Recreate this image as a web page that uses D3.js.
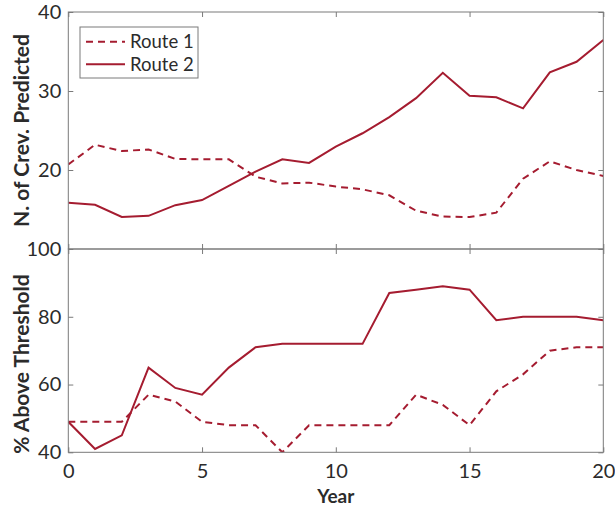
<!DOCTYPE html>
<html>
<head>
<meta charset="utf-8">
<script src="https://cdn.jsdelivr.net/npm/d3@7"></script>
<style>
  html, body { margin: 0; padding: 0; background: #fff; }
  svg { display: block; }
  text { font-family: Lato, "Open Sans", sans-serif; }
</style>
</head>
<body>
<svg id="chart" width="615" height="508"></svg>
<script>
// Years 0..20
const years = d3.range(0, 21);

// Number of crevasses predicted per year
const crevRoute1 = [20.7, 23.2, 22.4, 22.6, 21.4, 21.35, 21.35, 19.15, 18.3, 18.4, 17.9,
                    17.55, 16.8, 14.85, 14.1, 14.05, 14.6, 18.9, 21.1, 20.0, 19.25];
const crevRoute2 = [15.85, 15.6, 14.05, 14.2, 15.55, 16.2, 18.0, 19.8, 21.35, 20.9, 22.95,
                    24.65, 26.7, 29.1, 32.3, 29.4, 29.2, 27.8, 32.35, 33.7, 36.45];

// Percentage of crevasses above threshold per year
const pctRoute1 = [49, 49, 49, 57, 55, 49, 48, 48, 40, 48, 48, 48, 48, 57, 54, 48, 58, 63, 70, 71, 71];
const pctRoute2 = [49, 41, 45, 65, 59, 57, 65, 71, 72, 72, 72, 72, 87, 88, 89, 88, 79, 80, 80, 80, 79];

// Axis ticks
const xTicks = [0, 5, 10, 15, 20];
const topYTicks = [20, 30, 40];
const bottomYTicks = [40, 60, 80, 100];

const seriesNames = ["Route 1", "Route 2"];

const COLOR = "#a51c30";
const FRAME = "#7a7a7a";
const TEXT = "#2b2b2b";

const svg = d3.select("#chart");
const left = 68.3, right = 603.3;
const topPanel = { y0: 12, y1: 249 };
const botPanel = { y0: 249, y1: 452.3 };

const x = d3.scaleLinear().domain([0, 20]).range([left, right]);
const yTop = d3.scaleLinear().domain([10, 40]).range([topPanel.y1, topPanel.y0]);
const yBot = d3.scaleLinear().domain([40, 100]).range([botPanel.y1, botPanel.y0]);

function panel(yScale, yTicks, p, showX, series1, series2) {
  const g = svg.append("g");
  const clipId = "clip" + Math.round(p.y0);
  svg.append("clipPath").attr("id", clipId)
    .append("rect").attr("x", left).attr("y", p.y0)
    .attr("width", right - left).attr("height", p.y1 - p.y0);

  // Lines
  const line = d3.line().x((d, i) => x(years[i])).y(d => yScale(d));
  const lines = g.append("g").attr("clip-path", `url(#${clipId})`);
  lines.append("path").datum(series1)
    .attr("d", line).attr("fill", "none").attr("stroke", COLOR)
    .attr("stroke-width", 2).attr("stroke-dasharray", "7,5");
  lines.append("path").datum(series2)
    .attr("d", line).attr("fill", "none").attr("stroke", COLOR)
    .attr("stroke-width", 2);

  // Inward ticks on all four sides
  const tickLen = 5;
  const styleAxis = sel => {
    sel.select(".domain").remove();
    sel.selectAll(".tick line").attr("stroke", FRAME);
    sel.selectAll(".tick text").attr("fill", TEXT).style("font-size", "20px")
      .style("font-family", "Lato, 'Open Sans', sans-serif");
  };
  g.append("g").attr("transform", `translate(0,${p.y1})`)
    .call(d3.axisBottom(x).tickValues(xTicks).tickSize(-tickLen).tickPadding(12)
      .tickFormat(showX ? d3.format("d") : () => ""))
    .call(styleAxis);
  g.append("g").attr("transform", `translate(0,${p.y0})`)
    .call(d3.axisTop(x).tickValues(xTicks).tickSize(-tickLen).tickFormat(() => ""))
    .call(styleAxis);
  g.append("g").attr("transform", `translate(${left},0)`)
    .call(d3.axisLeft(yScale).tickValues(yTicks).tickSize(-tickLen).tickPadding(7)
      .tickFormat(d3.format("d")))
    .call(styleAxis);
  g.append("g").attr("transform", `translate(${right},0)`)
    .call(d3.axisRight(yScale).tickValues(yTicks).tickSize(-tickLen).tickFormat(() => ""))
    .call(styleAxis);

  // Frame
  g.append("rect").attr("x", left).attr("y", p.y0)
    .attr("width", right - left).attr("height", p.y1 - p.y0)
    .attr("fill", "none").attr("stroke", FRAME).attr("stroke-width", 1);
  return g;
}

panel(yTop, topYTicks, topPanel, false, crevRoute1, crevRoute2);
panel(yBot, bottomYTicks, botPanel, true, pctRoute1, pctRoute2);

// Axis labels
svg.append("text")
  .attr("transform", "translate(29,130.5) rotate(-90)")
  .attr("text-anchor", "middle").attr("fill", TEXT)
  .style("font-size", "21px").style("font-weight", "bold")
  .text("N. of Crev. Predicted");
svg.append("text")
  .attr("transform", "translate(29,364) rotate(-90)")
  .attr("text-anchor", "middle").attr("fill", TEXT)
  .style("font-size", "21px").style("font-weight", "bold")
  .text("% Above Threshold");
svg.append("text")
  .attr("x", (left + right) / 2).attr("y", 503)
  .attr("text-anchor", "middle").attr("fill", TEXT)
  .style("font-size", "19px").style("font-weight", "bold")
  .text("Year");

// Legend
const legend = svg.append("g");
legend.append("rect").attr("x", 80).attr("y", 27).attr("width", 118).attr("height", 51)
  .attr("fill", "#fff").attr("stroke", FRAME).attr("stroke-width", 1);
seriesNames.forEach((name, i) => {
  const ly = 41.7 + i * 22.6;
  legend.append("line").attr("x1", 86).attr("x2", 125).attr("y1", ly).attr("y2", ly)
    .attr("stroke", COLOR).attr("stroke-width", 2)
    .attr("stroke-dasharray", i === 0 ? "7,5" : null);
  legend.append("text").attr("x", 130).attr("y", ly + 6.4)
    .attr("fill", TEXT).style("font-size", "18.5px").text(name);
});
</script>
</body>
</html>
